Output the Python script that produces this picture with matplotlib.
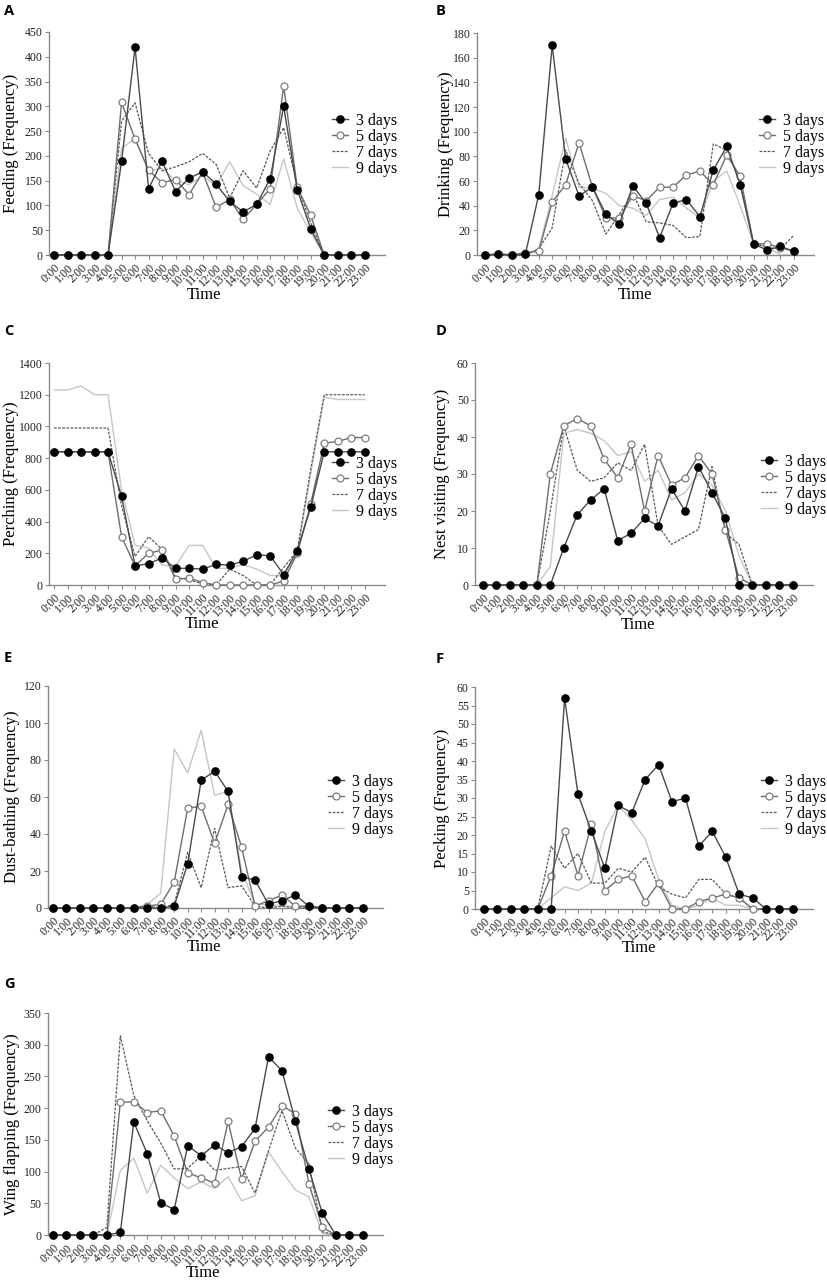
import matplotlib
matplotlib.use('Agg')
import matplotlib.pyplot as plt

hours = list(range(24))
time_labels = ["0:00", "1:00", "2:00", "3:00", "4:00", "5:00", "6:00", "7:00",
               "8:00", "9:00", "10:00", "11:00", "12:00", "13:00", "14:00", "15:00",
               "16:00", "17:00", "18:00", "19:00", "20:00", "21:00", "22:00", "23:00"]
series_names = ["3 days", "5 days", "7 days", "9 days"]

# A Feeding
feeding_3d = [0, 0, 0, 0, 0, 189, 419, 134, 189, 128, 155, 168, 143, 108, 87, 102, 154, 300, 132, 53, 0, 0, 0, 0]
feeding_5d = [0, 0, 0, 0, 0, 308, 234, 171, 146, 152, 122, 167, 96, 112, 72, 102, 134, 341, 137, 80, 0, 0, 0, 0]
feeding_7d = [0, 0, 0, 0, 0, 270, 307, 205, 170, 178, 188, 205, 183, 115, 170, 135, 210, 257, 140, 65, 0, 0, 0, 0]
feeding_9d = [0, 0, 0, 0, 0, 215, 235, 170, 175, 150, 142, 160, 140, 188, 140, 123, 102, 194, 95, 45, 0, 0, 0, 0]

# B Drinking
drinking_3d = [0, 0.5, 0, 0.5, 49, 170, 78, 48, 55, 33, 25, 56, 42, 14, 42, 45, 31, 69, 88, 57, 9, 4, 7, 3]
drinking_5d = [0, 1, 0, 2, 3, 43, 57, 91, 55, 30, 30, 48, 44, 55, 55, 65, 68, 57, 81, 64, 9, 9, 6, 3]
drinking_7d = [0, 0, 0, 0, 5, 22, 85, 58, 44, 17, 33, 50, 27, 26, 24, 14, 15, 90, 85, 60, 10, 6, 5, 16]
drinking_9d = [0, 0, 0, 0, 5, 48, 95, 55, 54, 50, 40, 38, 32, 45, 47, 38, 30, 60, 68, 40, 9, 7, 0, 0]

# C Perching
perching_3d = [840, 840, 840, 840, 840, 560, 120, 135, 170, 105, 105, 100, 130, 125, 150, 190, 185, 65, 215, 490, 840, 840, 840, 840]
perching_5d = [840, 840, 840, 840, 840, 305, 120, 200, 220, 35, 45, 15, 0, 0, 0, 0, 0, 25, 200, 510, 895, 905, 930, 930]
perching_7d = [990, 990, 990, 990, 990, 500, 180, 305, 225, 50, 30, 10, 0, 100, 60, 0, 0, 110, 215, 730, 1200, 1200, 1200, 1200]
perching_9d = [1230, 1230, 1255, 1200, 1200, 600, 250, 235, 125, 120, 250, 250, 105, 105, 130, 100, 60, 60, 190, 700, 1185, 1170, 1170, 1170]

# D Nest visiting
nest_3d = [0, 0, 0, 0, 0, 0, 10, 19, 23, 26, 12, 14, 18, 16, 26, 20, 32, 25, 18, 0, 0, 0, 0, 0]
nest_5d = [0, 0, 0, 0, 0, 30, 43, 45, 43, 34, 29, 38, 20, 35, 27, 29, 35, 30, 15, 2, 0, 0, 0, 0]
nest_7d = [0, 0, 0, 0, 0, 20, 43, 31, 28, 29, 33, 31, 38, 16, 11, 13, 15, 32, 14, 11, 0, 0, 0, 0]
nest_9d = [0, 0, 0, 0, 0, 5, 41, 42, 41, 39, 35, 36, 28, 31, 23, 25, 30, 27, 20, 8, 0, 0, 0, 0]

# E Dust-bathing
dust_3d = [0, 0, 0, 0, 0, 0, 0, 0, 0, 1, 24, 69, 74, 63, 17, 15, 2, 4, 7, 1, 0, 0, 0, 0]
dust_5d = [0, 0, 0, 0, 0, 0, 0, 1, 2, 14, 54, 55, 35, 56, 33, 1, 4, 7, 1, 1, 0, 0, 0, 0]
dust_7d = [0, 0, 0, 0, 0, 0, 0, 1, 0, 2, 30, 11, 43, 11, 12, 1, 0, 1, 0, 0, 0, 0, 0, 0]
dust_9d = [0, 0, 0, 0, 0, 0, 0, 2, 8, 86, 73, 96, 61, 63, 20, 2, 2, 1, 1, 0, 0, 0, 0, 0]

# F Pecking
peck_3d = [0, 0, 0, 0, 0, 0, 57, 31, 21, 11, 28, 26, 35, 39, 29, 30, 17, 21, 14, 4, 3, 0, 0, 0]
peck_5d = [0, 0, 0, 0, 0, 9, 21, 9, 23, 5, 8, 9, 2, 7, 0, 0, 2, 3, 4, 3, 0, 0, 0, 0]
peck_7d = [0, 0, 0, 0, 0, 17, 11, 15, 7, 7, 11, 10, 14, 6, 4, 3, 8, 8, 4, 3, 0, 0, 0, 0]
peck_9d = [0, 0, 0, 0, 0, 3, 6, 5, 7, 21, 28, 24, 19, 8, 1, 0, 1, 3, 1, 1, 0, 0, 0, 0]

# G Wing flapping
wing_3d = [0, 0, 0, 0, 0, 4, 178, 128, 51, 40, 141, 125, 142, 130, 139, 168, 281, 259, 179, 104, 34, 0, 0, 0]
wing_5d = [0, 0, 0, 0, 0, 209, 210, 193, 196, 156, 98, 90, 82, 179, 88, 148, 170, 204, 191, 81, 12, 0, 0, 0]
wing_7d = [0, 0, 0, 0, 12, 314, 220, 180, 145, 104, 105, 125, 102, 105, 108, 66, 133, 196, 137, 112, 5, 0, 0, 0]
wing_9d = [0, 0, 0, 0, 0, 102, 121, 66, 110, 90, 73, 84, 73, 92, 54, 62, 131, 100, 71, 60, 3, 0, 0, 0]

W, H = 827, 1282
fig = plt.figure(figsize=(W / 100, H / 100), dpi=100)
SERIF = ['Liberation Serif', 'DejaVu Serif']

panels = [
    dict(letter='A', data=[feeding_3d, feeding_5d, feeding_7d, feeding_9d], ylabel='Feeding (Frequency)',
         ymax=450, ystep=50, box=(49, 32, 385, 255), xl=-0.37, leg=(332, 145), lx=4, ly=4,
         tx=204, ty=295, yx=11),
    dict(letter='B', data=[drinking_3d, drinking_5d, drinking_7d, drinking_9d], ylabel='Drinking (Frequency)',
         ymax=180, ystep=20, box=(477, 33, 814, 255), xl=-0.6, leg=(759, 145), lx=436, ly=4,
         tx=635, ty=295, yx=446),
    dict(letter='C', data=[perching_3d, perching_5d, perching_7d, perching_9d], ylabel='Perching (Frequency)',
         ymax=1400, ystep=200, box=(49, 363, 385, 585), xl=-0.37, leg=(332, 488), lx=4, ly=324,
         tx=202, ty=624, yx=11),
    dict(letter='D', data=[nest_3d, nest_5d, nest_7d, nest_9d], ylabel='Nest visiting (Frequency)',
         ymax=60, ystep=10, box=(475, 363, 813, 585), xl=-0.59, leg=(761, 486), lx=436, ly=324,
         tx=638, ty=625, yx=442),
    dict(letter='E', data=[dust_3d, dust_5d, dust_7d, dust_9d], ylabel='Dust-bathing (Frequency)',
         ymax=120, ystep=20, box=(48, 686, 383, 908), xl=-0.37, leg=(328, 806), lx=4, ly=651,
         tx=204, ty=947, yx=12),
    dict(letter='F', data=[peck_3d, peck_5d, peck_7d, peck_9d], ylabel='Pecking (Frequency)',
         ymax=60, ystep=5, box=(475, 687, 813, 909), xl=-0.67, leg=(761, 806), lx=436, ly=652,
         tx=639, ty=948, yx=442),
    dict(letter='G', data=[wing_3d, wing_5d, wing_7d, wing_9d], ylabel='Wing flapping (Frequency)',
         ymax=350, ystep=50, box=(48, 1013, 383, 1235), xl=-0.37, leg=(328, 1136), lx=4, ly=977,
         tx=203, ty=1273, yx=12),
]

SPINE = '#8a8a8a'

for p in panels:
    l, t, r, b = p['box']
    ax = fig.add_axes([l / W, 1 - b / H, (r - l) / W, (b - t) / H])
    d3, d5, d7, d9 = p['data']
    h9, = ax.plot(hours, d9, color='#c6c6c6', lw=1.0, zorder=2, clip_on=False)
    h7, = ax.plot(hours, d7, color='#5a5a5a', lw=0.9, ls=(0, (2.2, 1.1)), zorder=3, clip_on=False)
    h5, = ax.plot(hours, d5, color='#6e6e6e', lw=1.0, marker='o', ms=5, mfc='white', mec='#7e7e7e',
                  mew=0.9, zorder=4, clip_on=False)
    h3, = ax.plot(hours, d3, color='#4a4a4a', lw=1.0, marker='o', ms=5.2, mfc='black', mec='black',
                  zorder=5, clip_on=False)
    ax.set_xlim(p['xl'], 24.5)
    ax.set_ylim(0, p['ymax'])
    ax.set_xticks(hours)
    ax.set_xticklabels(time_labels, rotation=45, ha='right', rotation_mode='anchor',
                       fontfamily=SERIF, fontsize=8.5)
    yt = list(range(0, p['ymax'] + 1, p['ystep']))
    ax.set_yticks(yt)
    ax.set_yticklabels([str(v) for v in yt], fontfamily=SERIF, fontsize=8.5)
    for s in ['top', 'right']:
        ax.spines[s].set_visible(False)
    for s in ['left', 'bottom']:
        ax.spines[s].set_color(SPINE)
        ax.spines[s].set_linewidth(1.0)
    ax.tick_params(axis='both', direction='out', length=3, width=0.8, color=SPINE,
                   labelcolor='#222222', pad=1.5)
    ax.set_xlabel('Time', fontfamily=SERIF, fontsize=12)
    ax.set_ylabel(p['ylabel'], fontfamily=SERIF, fontsize=12)
    ax.xaxis.label.set_va('center')
    ax.yaxis.label.set_va('center')
    axw, axh = r - l, b - t
    ax.xaxis.set_label_coords((p['tx'] - l) / axw, -(p['ty'] - b) / axh)
    ax.yaxis.set_label_coords(-(l - p['yx']) / axw, 0.5)
    lx, ly = p['leg']
    ax.legend([h3, h5, h7, h9], series_names, loc='center left',
              bbox_to_anchor=(lx / W, 1 - ly / H), bbox_transform=fig.transFigure,
              frameon=False, borderpad=0, borderaxespad=0, handlelength=1.0,
              handletextpad=0.5, labelspacing=0.0,
              prop={'family': SERIF, 'size': 11.5})
    fig.text(p['lx'] / W, 1 - p['ly'] / H, p['letter'], fontfamily=['Open Sans', 'DejaVu Sans'],
             fontweight='bold', fontsize=10.5, ha='left', va='top')

fig.savefig('out.png', dpi=100)
